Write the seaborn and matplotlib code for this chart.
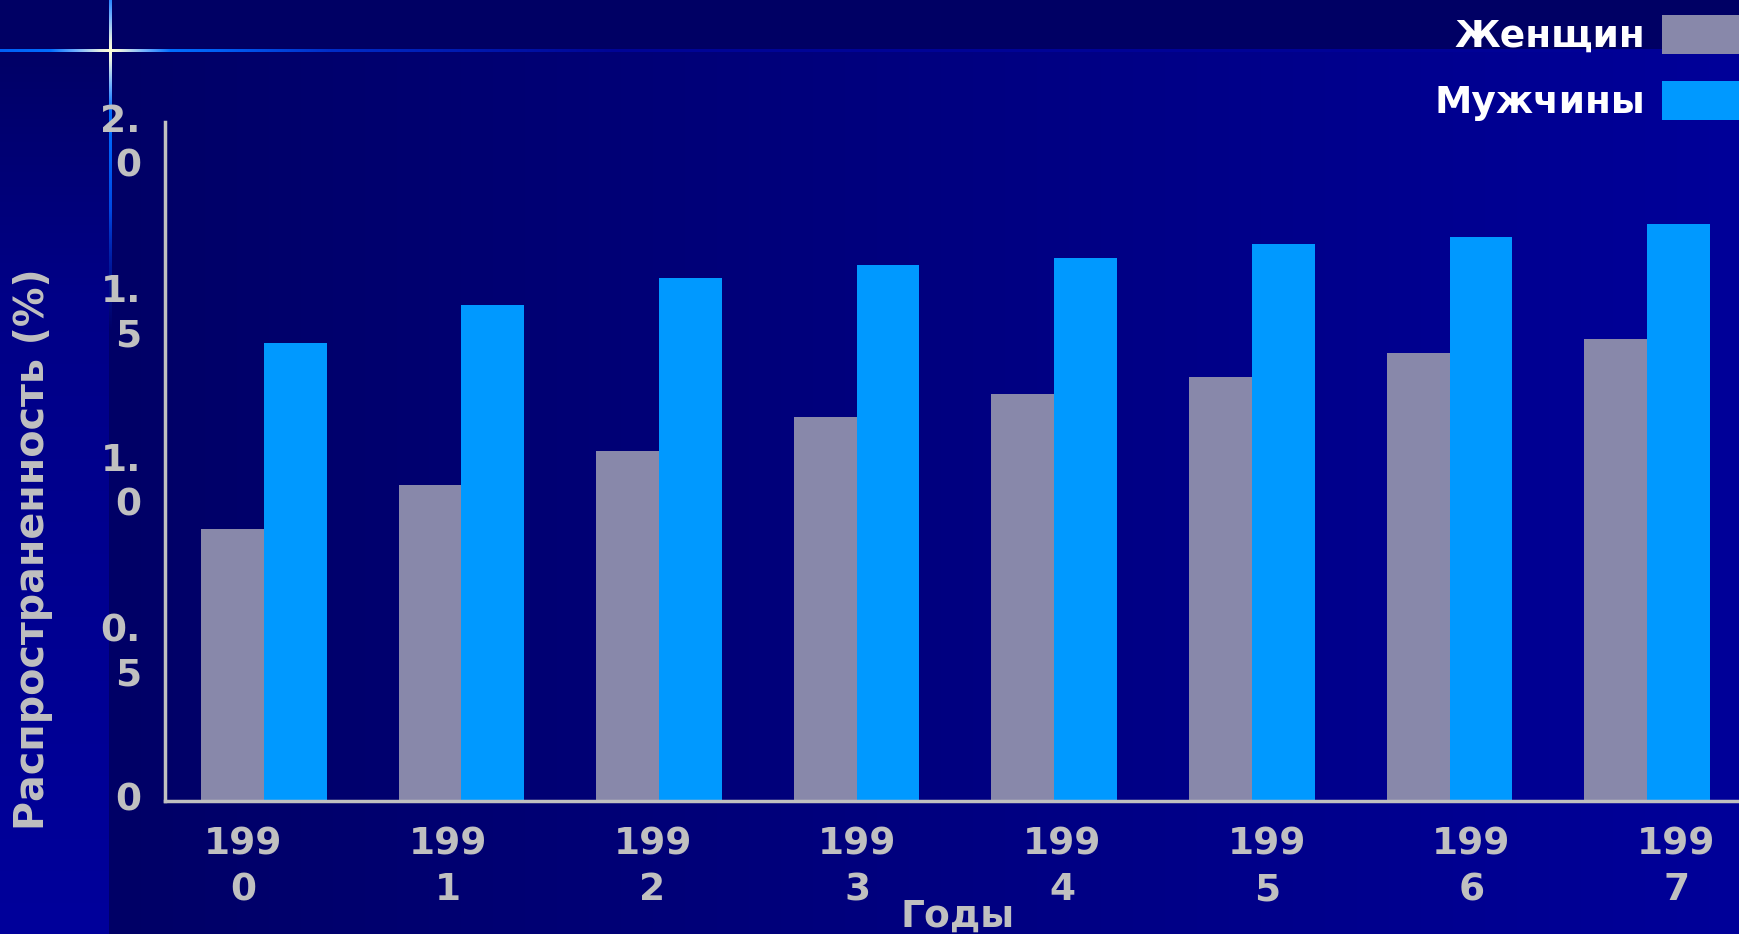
import numpy as np
import pandas as pd
import matplotlib
matplotlib.use("Agg")
import matplotlib.pyplot as plt
from matplotlib.patches import Patch
from matplotlib.transforms import ScaledTranslation
import seaborn as sns

# data
years = ['1990', '1991', '1992', '1993', '1994', '1995', '1996', '1997']
women = [0.80, 0.93, 1.03, 1.13, 1.20, 1.25, 1.32, 1.36]
men = [1.35, 1.46, 1.54, 1.58, 1.60, 1.64, 1.66, 1.70]
series_names = ['Женщин', 'Мужчины']
y_ticks = [0, 0.5, 1.0, 1.5, 2.0]
y_tick_labels = ['0', '0.\n5', '1.\n0', '1.\n5', '2.\n0']
x_tick_labels = [y[:3] + '\n' + y[3:] for y in years]

colors = {'Женщин': '#8888AA', 'Мужчины': '#0099FF'}
grey = '#C0C0C0'

df = pd.DataFrame({
    'year': years * 2,
    'sex': [series_names[0]] * len(years) + [series_names[1]] * len(years),
    'value': women + men,
})

sns.set_style('white')
plt.rcParams['font.family'] = ['DejaVu Sans']
plt.rcParams['font.weight'] = 'bold'

W, H = 1740, 934
fig = plt.figure(figsize=(W / 100, H / 100), dpi=100)

# slide background: dark top band, horizontal gradient, brighter left strip
img = np.zeros((H, W, 3))
xs = np.arange(W)
ys = np.arange(H)
main_b = np.interp(xs, [109, W], [102, 153])
img[:, :, 2] = main_b[None, :]
strip_b = np.interp(ys, [51, 300, H], [102, 135, 155])
img[51:, :109, 2] = strip_b[51:, None]
img[:51, :, 2] = 100


def star_color(d):
    r = np.interp(d, [0, 10, 35, 60, 110, 220, 500, 1700], [255, 230, 110, 0, 0, 0, 0, 0])
    g = np.interp(d, [0, 10, 35, 60, 110, 220, 500, 1700], [255, 240, 175, 110, 95, 45, 5, 0])
    b = np.interp(d, [0, 10, 35, 60, 110, 220, 500, 1700], [215, 225, 255, 255, 245, 200, 150, 150])
    return np.stack([r, g, b], axis=-1)


cx, cy = 110, 50
dh = np.abs(xs - cx).astype(float)
ch = star_color(dh)
for row in range(cy - 1, cy + 2):
    img[row, :, :] = ch
vy = np.arange(0, 330)
dv = np.abs(vy - cy).astype(float)
cv = star_color(dv)
alpha = np.interp(dv, [0, 160, 280], [1, 1, 0])[:, None]
for col in range(cx - 1, cx + 2):
    img[vy, col, :] = alpha * cv + (1 - alpha) * img[vy, col, :]

bg = fig.add_axes([0, 0, 1, 1], zorder=-10)
bg.imshow(img.astype(np.uint8), aspect='auto', extent=(0, W, H, 0))
bg.axis('off')

ax = fig.add_axes([165 / W, (H - 801) / H, (W - 165) / W, 679 / H])
ax.set_facecolor('none')

sns.barplot(data=df, x='year', y='value', hue='sex', palette=colors,
            width=0.636, gap=0, saturation=1, legend=False,
            linewidth=0, edgecolor='none', ax=ax)

ax.set_xlim(-0.5, 7.47)
ax.set_ylim(0, 2.0)

for s in ['top', 'right']:
    ax.spines[s].set_visible(False)
for s in ['left', 'bottom']:
    ax.spines[s].set_color(grey)
    ax.spines[s].set_linewidth(2.5)

ax.set_yticks(y_ticks, labels=y_tick_labels)
ax.tick_params(axis='y', direction='out', length=10.8, width=2.5, color=grey,
               labelcolor=grey, labelsize=27, pad=6.5)
# year labels sit on their own slightly wider grid, as on the slide
tick_pos = np.arange(len(years)) * 1.036 - 0.105
ax.set_xticks(tick_pos, labels=x_tick_labels)
ax.set_xticks([-0.5], minor=True)
ax.tick_params(axis='x', which='major', length=0, labelcolor=grey,
               labelsize=27, pad=18.5)
ax.tick_params(axis='x', which='minor', direction='out', length=13.7,
               width=2.5, color=grey)

shift = ScaledTranslation(0, 13 / 72, fig.dpi_scale_trans)
for lab in ax.get_yticklabels():
    lab.set_fontweight('bold')
    lab.set_verticalalignment('top')
    lab.set_linespacing(1.3)
    lab.set_transform(lab.get_transform() + shift)
for lab in ax.get_xticklabels():
    lab.set_fontweight('bold')
    lab.set_linespacing(1.35)

ax.set_ylabel('Распространенность (%)', fontsize=28.5, fontweight='bold',
              color=grey, va='center')
ax.yaxis.set_label_coords(-0.0838, 0.371)
ax.set_xlabel('Годы', fontsize=27, fontweight='bold', color=grey)
ax.xaxis.set_label_coords(0.503, -0.144)

handles = [Patch(facecolor=colors[n], edgecolor='none') for n in series_names]
leg = fig.legend(handles, series_names, loc='upper right',
                 bbox_to_anchor=(1.0, 1 - 15 / H), frameon=False,
                 markerfirst=False, fontsize=27, handlelength=2.08,
                 handleheight=1.22, handletextpad=0.45, labelspacing=0.68,
                 borderpad=0, borderaxespad=0)
for t in leg.get_texts():
    t.set_color('white')
    t.set_fontweight('bold')

fig.savefig('out.png', dpi=100)
